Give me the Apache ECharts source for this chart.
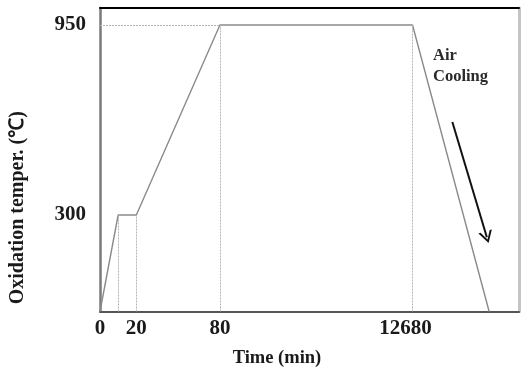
<!DOCTYPE html>
<html>
<head>
<meta charset="utf-8">
<script src="https://cdn.jsdelivr.net/npm/echarts@6/dist/echarts.min.js"></script>
<style>html,body{margin:0;padding:0;background:#fff;}#c{width:529px;height:377px;}</style>
</head>
<body>
<div id="c"></div>
<script>
// ---- data ----
const times = [0, 10, 20, 80, 12680, 12780];      // min
const temps = [0, 300, 300, 950, 950, 0];         // °C
const timeTicks = [0, 20, 80, 12680];
const timeTickLabels = ['0', '20', '80', '12680'];
const tempTicks = [300, 950];
const tempTickLabels = ['300', '950'];
const dropTimes = [10, 20, 80, 12680];
const arrowFrom = [12732, 618];
const arrowTo = [12777, 231];

// ---- schematic (broken) axis scales: piecewise linear ----
const xBreakTimes = [0, 20, 80, 12680, 12780];
const xBreakUnits = [0, 36.5, 120.5, 314, 391];
const X_MAX = 421;
const yBreakTemps = [0, 300, 950];
const yBreakUnits = [0, 96.5, 286.5];
const Y_MAX = 303.5;

function piece(v, a, b) {
  for (let i = 0; i < a.length - 1; i++) {
    if (v <= a[i + 1] || i === a.length - 2) {
      return b[i] + (v - a[i]) / (a[i + 1] - a[i]) * (b[i + 1] - b[i]);
    }
  }
}
const sx = t => piece(t, xBreakTimes, xBreakUnits);
const sy = T => piece(T, yBreakTemps, yBreakUnits);
function tempAt(t) { const i = times.indexOf(t); return temps[i]; }

const serif = '"Liberation Serif","Times New Roman",serif';
const chart = echarts.init(document.getElementById('c'), null, {renderer: 'canvas'});

const dropLines = dropTimes.map(t => [
  {coord: [sx(t), 0]}, {coord: [sx(t), sy(tempAt(t))]}
]);
dropLines.push([{coord: [0, sy(950)]}, {coord: [sx(80), sy(950)]}]);

chart.setOption({
  animation: false,
  backgroundColor: '#fff',
  grid: {left: 98, top: 8, right: 10, bottom: 65.5, containLabel: false},
  xAxis: [{
    type: 'value', min: 0, max: X_MAX,
    name: 'Time (min)', nameLocation: 'middle', nameGap: 37,
    nameTextStyle: {fontFamily: serif, fontWeight: 'bold', fontSize: 18.5, color: '#1a1a1a', padding: [0, 65, 0, 0]},
    axisLine: {show: true, lineStyle: {color: '#555', width: 2}},
    axisTick: {show: false},
    splitLine: {show: false},
    axisLabel: {
      customValues: timeTicks.map(sx),
      margin: 7,
      fontFamily: serif, fontWeight: 'bold', fontSize: 21, color: '#1a1a1a',
      formatter: function (v) {
        let best = 0, d = Infinity;
        timeTicks.forEach((t, i) => { const dd = Math.abs(sx(t) - v); if (dd < d) { d = dd; best = i; } });
        const lab = timeTickLabels[best];
        return best === timeTicks.length - 1 ? '{s|' + lab + '}' : lab;
      },
      rich: {s: {fontFamily: serif, fontWeight: 'bold', fontSize: 21, color: '#1a1a1a', padding: [0, 14, 0, 0]}}
    }
  }, {
    type: 'value', min: 0, max: X_MAX, position: 'top',
    axisLine: {show: true, onZero: false, lineStyle: {color: '#000', width: 2}},
    axisTick: {show: false}, axisLabel: {show: false}, splitLine: {show: false}
  }],
  yAxis: [{
    type: 'value', min: 0, max: Y_MAX,
    name: 'Oxidation temper. (℃)', nameLocation: 'middle', nameGap: 72,
    nameTextStyle: {fontFamily: serif, fontWeight: 'bold', fontSize: 20, color: '#1a1a1a', padding: [0, 96, 0, 0]},
    axisLine: {show: true, lineStyle: {color: '#7a7a7a', width: 2.5}},
    axisTick: {show: false},
    splitLine: {show: false},
    axisLabel: {
      customValues: tempTicks.map(sy),
      margin: 14,
      fontFamily: serif, fontWeight: 'bold', fontSize: 21, color: '#1a1a1a',
      formatter: function (v) {
        let best = 0, d = Infinity;
        tempTicks.forEach((T, i) => { const dd = Math.abs(sy(T) - v); if (dd < d) { d = dd; best = i; } });
        return tempTickLabels[best];
      }
    }
  }, {
    type: 'value', min: 0, max: Y_MAX, position: 'right',
    axisLine: {show: true, onZero: false, lineStyle: {color: '#c4c4c4', width: 3}},
    axisTick: {show: false}, axisLabel: {show: false}, splitLine: {show: false}
  }],
  series: [{
    type: 'line',
    data: times.map((t, i) => [sx(t), sy(temps[i])]),
    symbol: 'none',
    silent: true,
    lineStyle: {color: '#8a8a8a', width: 1.4},
    markLine: {
      silent: true, symbol: 'none', label: {show: false},
      lineStyle: {color: '#b4b4b4', width: 1, type: [2, 1]},
      data: dropLines
    },
    z: 3
  }, {
    type: 'line', data: [], silent: true,
    markLine: {
      silent: true,
      symbol: ['none', 'path://M5,0 L10,10 L8.4,10 L5,3 L1.6,10 L0,10 Z'],
      symbolSize: [14, 12],
      label: {show: false},
      lineStyle: {color: '#111', width: 2, type: 'solid'},
      data: [[{coord: [sx(arrowFrom[0]), sy(arrowFrom[1])]}, {coord: [sx(arrowTo[0]), sy(arrowTo[1])]}]]
    }
  }],
  graphic: [{
    type: 'text', left: 433, top: 45,
    style: {text: 'Air\nCooling', font: 'bold 16.5px ' + serif, fill: '#2a2a2a', lineHeight: 21}
  }]
});
</script>
</body>
</html>
